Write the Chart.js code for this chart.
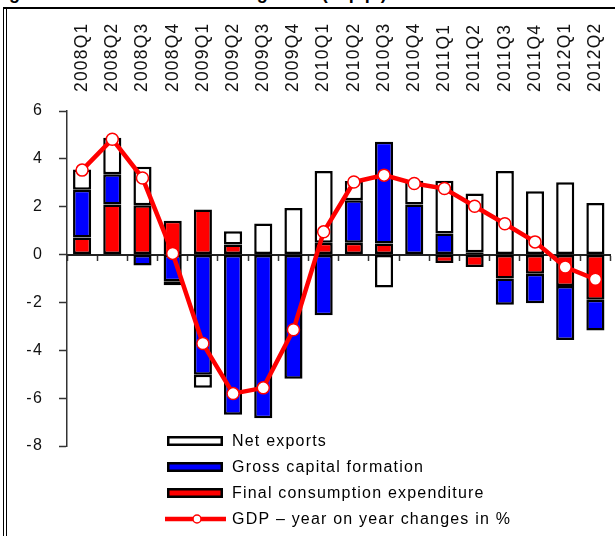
<!DOCTYPE html>
<html><head><meta charset="utf-8">
<script src="https://cdn.jsdelivr.net/npm/chart.js@4.4.1/dist/chart.umd.min.js"></script>
<style>
html,body{margin:0;padding:0;background:#fff;overflow:hidden;width:615px;height:536px;position:relative;}
#title{position:absolute;left:-7px;top:-16px;font:bold 18px "Liberation Sans",Arial,sans-serif;white-space:nowrap;line-height:18px;color:#000;}
.f1{position:absolute;left:3px;top:7px;width:700px;height:600px;border-top:2px solid #000;border-left:1px solid #000;}
.f2{position:absolute;left:6px;top:9px;width:700px;height:600px;border-left:1px solid #000;}
#wrap{position:absolute;left:0;top:0;width:618px;height:536px;}
</style></head><body>
<div id="title">Figure 5 Contributions to GDP growth (in p.p.)</div>
<div class="f1"></div><div class="f2"></div>
<div id="wrap"><canvas id="c" width="618" height="536"></canvas></div>
<script>
const categories = ['2008Q1','2008Q2','2008Q3','2008Q4','2009Q1','2009Q2','2009Q3','2009Q4','2010Q1','2010Q2','2010Q3','2010Q4','2011Q1','2011Q2','2011Q3','2011Q4','2012Q1','2012Q2'];
const consumption = [0.71, 2.09, 2.06, 1.41, 1.88, 0.42, 0, 0, 0.49, 0.49, 0.46, 0, -0.35, -0.52, -1.0, -0.8, -1.31, -1.89];
const capital = [2.0, 1.27, -0.46, -1.12, -5.02, -6.69, -6.84, -5.19, -2.54, 1.78, 4.25, 2.09, 0.88, 0.1, -1.1, -1.23, -2.26, -1.28];
const netExports = [0.85, 1.52, 1.61, -0.16, -0.55, 0.55, 1.3, 1.95, 3.0, 0.8, -1.38, 1.0, 2.2, 2.45, 3.49, 2.65, 3.02, 2.16];
const gdp = [3.53, 4.82, 3.2, 0.05, -3.72, -5.81, -5.57, -3.14, 0.95, 3.03, 3.32, 2.97, 2.76, 2.02, 1.29, 0.53, -0.52, -1.03];
const yTicks = [-8, -6, -4, -2, 0, 2, 4, 6];

const FONT = '"Liberation Sans", Arial, sans-serif';

const spacingPlugin = {
  id: 'spacing',
  beforeDraw(chart) { chart.ctx.letterSpacing = '1.2px'; }
};

const legendPlugin = {
  id: 'customLegend',
  afterDraw(chart) {
    const ctx = chart.ctx;
    const order = [2, 1, 0, 3];
    const x0 = 167, boxW = 56, boxH = 10, textX = 232, y0 = 441, dy = 26;
    ctx.save();
    ctx.letterSpacing = '1.2px';
    ctx.font = '16px ' + FONT;
    ctx.textBaseline = 'middle';
    ctx.textAlign = 'left';
    order.forEach((di, i) => {
      const ds = chart.data.datasets[di];
      const y = y0 + i * dy;
      if (ds.type === 'line') {
        ctx.strokeStyle = ds.borderColor;
        ctx.lineWidth = ds.borderWidth;
        ctx.beginPath(); ctx.moveTo(165, y); ctx.lineTo(226, y); ctx.stroke();
        ctx.beginPath(); ctx.arc(197, y, 4, 0, Math.PI * 2);
        ctx.fillStyle = '#fff'; ctx.fill();
        ctx.lineWidth = 1.5; ctx.stroke();
      } else {
        ctx.fillStyle = ds.backgroundColor;
        ctx.fillRect(x0, y - boxH / 2, boxW, boxH);
        ctx.lineWidth = 2.5; ctx.strokeStyle = '#000';
        ctx.strokeRect(x0 + 1.25, y - boxH / 2 + 1.25, boxW - 2.5, boxH - 2.5);
      }
      ctx.fillStyle = '#000';
      ctx.fillText(ds.label, textX, y + 0.5);
    });
    ctx.restore();
  }
};

const barCommon = { borderColor: '#000', borderWidth: 2.5, borderSkipped: false, barPercentage: 0.6, categoryPercentage: 1.0, order: 1 };

new Chart(document.getElementById('c'), {
  type: 'bar',
  data: {
    labels: categories,
    datasets: [
      Object.assign({ label: 'Final consumption expenditure', data: consumption, backgroundColor: '#ff0000' }, barCommon),
      Object.assign({ label: 'Gross capital formation', data: capital, backgroundColor: '#0000ff' }, barCommon),
      Object.assign({ label: 'Net exports', data: netExports, backgroundColor: '#ffffff' }, barCommon),
      { type: 'line', label: 'GDP \u2013 year on year changes in %', data: gdp, stack: 'gdp', order: -1,
        borderColor: '#ff0000', borderWidth: 4.5, pointRadius: 6, pointBackgroundColor: '#ffffff',
        pointBorderColor: '#ff0000', pointBorderWidth: 1.5, tension: 0, fill: false }
    ]
  },
  options: {
    responsive: false,
    animation: false,
    devicePixelRatio: 1,
    layout: { padding: { left: 0, top: 0, right: 0, bottom: 90 } },
    plugins: { legend: { display: false }, tooltip: { enabled: false } },
    scales: {
      x: {
        position: 'top', stacked: true, offset: true,
        grid: { display: false, drawTicks: false },
        border: { display: false },
        ticks: { minRotation: 90, maxRotation: 90, autoSkip: false, padding: 19, labelOffset: 21,
                 font: { size: 17.5, family: FONT }, color: '#111' },
        afterFit(s) { s.height = 111; s.paddingLeft = 0; s.paddingRight = 0; }
      },
      x2: {
        type: 'category', labels: categories, position: { y: 0 }, offset: true,
        grid: { drawOnChartArea: false, drawTicks: true, tickLength: 5, tickWidth: 1.5, tickColor: '#333', offset: true },
        border: { display: true, color: '#222', width: 2 },
        ticks: { display: false },
        afterFit(s) { s.paddingLeft = 0; s.paddingRight = 0; }
      },
      y: {
        stacked: true, min: -8, max: 6,
        afterBuildTicks(s) { s.ticks = yTicks.map(v => ({ value: v })); },
        grid: { drawOnChartArea: false, drawTicks: true, tickLength: 8, tickColor: '#333', tickWidth: 1.5 },
        border: { display: true, color: '#333', width: 1.5 },
        ticks: { padding: 16, font: { size: 16, family: FONT }, color: '#111' },
        afterFit(s) { s.width = 67; }
      }
    }
  },
  plugins: [spacingPlugin, legendPlugin]
});
</script>
</body></html>
